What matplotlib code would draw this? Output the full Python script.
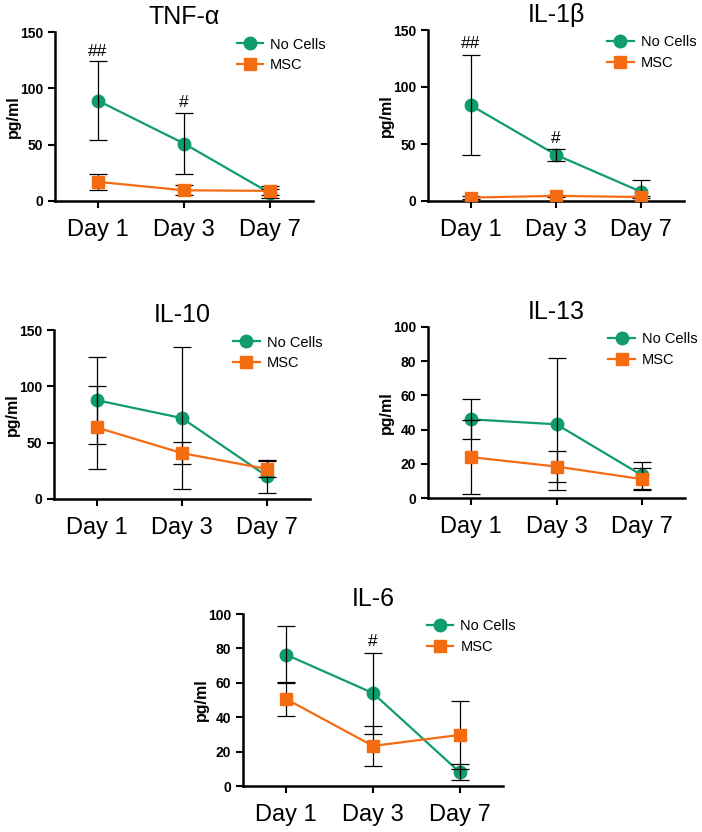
import matplotlib.pyplot as plt

plt.rcParams['font.family'] = ['Liberation Sans', 'DejaVu Sans']

days = ["Day 1", "Day 3", "Day 7"]
green = "#109c6c"
orange = "#f56b12"

# mean and error (SD) for each cytokine
tnf_nc = [89, 51, 7]
tnf_nc_err = [35, 27, 4]
tnf_msc = [17, 9.5, 9]
tnf_msc_err = [7, 4.5, 4]

il1_nc = [84, 40.5, 8]
il1_nc_err = [44, 5, 10]
il1_msc = [3, 4.5, 3.5]
il1_msc_err = [1, 1, 1]

il10_nc = [87.7, 71.8, 20]
il10_nc_err = [38.5, 63, 15]
il10_msc = [63.5, 40.7, 26.6]
il10_msc_err = [37, 10, 7]

il13_nc = [46, 43.1, 13.2]
il13_nc_err = [11.7, 38.5, 8]
il13_msc = [23.9, 18.4, 11]
il13_msc_err = [21.6, 9.2, 6.5]

il6_nc = [76.3, 54, 8]
il6_nc_err = [16.5, 23.5, 4.8]
il6_msc = [50.5, 23.3, 29.7]
il6_msc_err = [10, 11.7, 19.7]

# (title, nc, nc_err, msc, msc_err, ymax, ystep, marks, box in px: left, top, right, bottom)
panels = [
    ("TNF-α", tnf_nc, tnf_nc_err, tnf_msc, tnf_msc_err, 150, 50,
     [(0, 133, "##"), (1, 87, "#")], (55, 32, 313, 201)),
    ("IL-1β", il1_nc, il1_nc_err, il1_msc, il1_msc_err, 150, 50,
     [(0, 138, "##"), (1, 55, "#")], (428, 30, 684, 201)),
    ("IL-10", il10_nc, il10_nc_err, il10_msc, il10_msc_err, 150, 50,
     [], (54, 330, 310, 499)),
    ("IL-13", il13_nc, il13_nc_err, il13_msc, il13_msc_err, 100, 20,
     [], (428, 327, 685, 498)),
    ("IL-6", il6_nc, il6_nc_err, il6_msc, il6_msc_err, 100, 20,
     [(1, 84, "#")], (243, 614, 503, 786)),
]

W, H = 702, 832
fig = plt.figure(figsize=(W / 100, H / 100), dpi=100)

for title, nc, nce, msc, msce, ymax, ystep, marks, box in panels:
    l, t, r, b = box
    ax = fig.add_axes([l / W, 1 - b / H, (r - l) / W, (b - t) / H])
    x = range(len(days))
    ax.plot(x, nc, "o-", color=green, lw=1.6, ms=9, label="No Cells", zorder=2)
    ax.plot(x, msc, "s-", color=orange, lw=1.6, ms=8.5, label="MSC", zorder=4)
    ax.errorbar(x, nc, yerr=nce, fmt="none", ecolor="black", elinewidth=0.9,
                capsize=6.5, capthick=0.9, zorder=3)
    ax.errorbar(x, msc, yerr=msce, fmt="none", ecolor="black", elinewidth=0.9,
                capsize=6.5, capthick=0.9, zorder=3)
    for xi, yi, s in marks:
        ax.text(xi, yi, s, ha="center", va="center", fontsize=12.5)
    ax.set_xlim(-0.5, 2.5)
    ax.set_ylim(0, ymax)
    ax.set_yticks(range(0, ymax + 1, ystep))
    ax.set_xticks(list(x))
    ax.set_xticklabels(days, fontsize=17)
    for lab in ax.get_yticklabels():
        lab.set_fontweight("bold")
        lab.set_fontsize(10)
    ax.set_ylabel("pg/ml", fontsize=11.5, fontweight="bold", labelpad=-1)
    ax.set_title(title, fontsize=18, pad=6)
    for s in ["top", "right"]:
        ax.spines[s].set_visible(False)
    for s in ["left", "bottom"]:
        ax.spines[s].set_linewidth(1.8)
    ax.tick_params(axis="both", width=1.5, length=5)
    ax.tick_params(axis="x", pad=8)
    ax.legend(loc="upper right", frameon=False, fontsize=10.5, handlelength=1.8,
              handletextpad=0.5, bbox_to_anchor=(1.1, 1.045), labelspacing=0.45)

fig.savefig("out.png", dpi=100)
